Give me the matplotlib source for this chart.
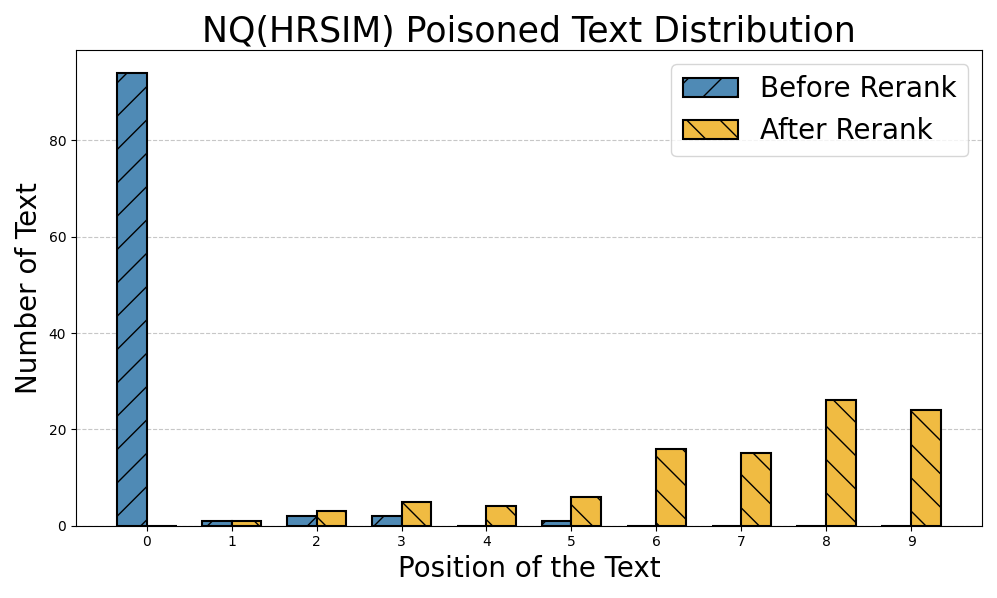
import numpy as np
import matplotlib.pyplot as plt

positions = [0, 1, 2, 3, 4, 5, 6, 7, 8, 9]
before_rerank = [94, 1, 2, 2, 0, 1, 0, 0, 0, 0]
after_rerank = [0, 1, 3, 5, 4, 6, 16, 15, 26, 24]

x = np.arange(len(positions))
width = 0.35

fig, ax = plt.subplots(figsize=(9.97, 5.98), dpi=100)
ax.bar(x - width / 2, before_rerank, width, label='Before Rerank',
       color='#4F8AB5', edgecolor='black', linewidth=1.5, hatch='/')
ax.bar(x + width / 2, after_rerank, width, label='After Rerank',
       color='#F0BB42', edgecolor='black', linewidth=1.5, hatch='\\')

ax.set_title('NQ(HRSIM) Poisoned Text Distribution', fontsize=25)
ax.set_xlabel('Position of the Text', fontsize=20)
ax.set_ylabel('Number of Text', fontsize=20)
ax.set_xticks(x)
ax.set_xticklabels(positions)
ax.yaxis.grid(True, linestyle='--', alpha=0.7)
ax.set_axisbelow(True)
ax.legend(fontsize=20)

plt.tight_layout()
plt.savefig('out.png')
